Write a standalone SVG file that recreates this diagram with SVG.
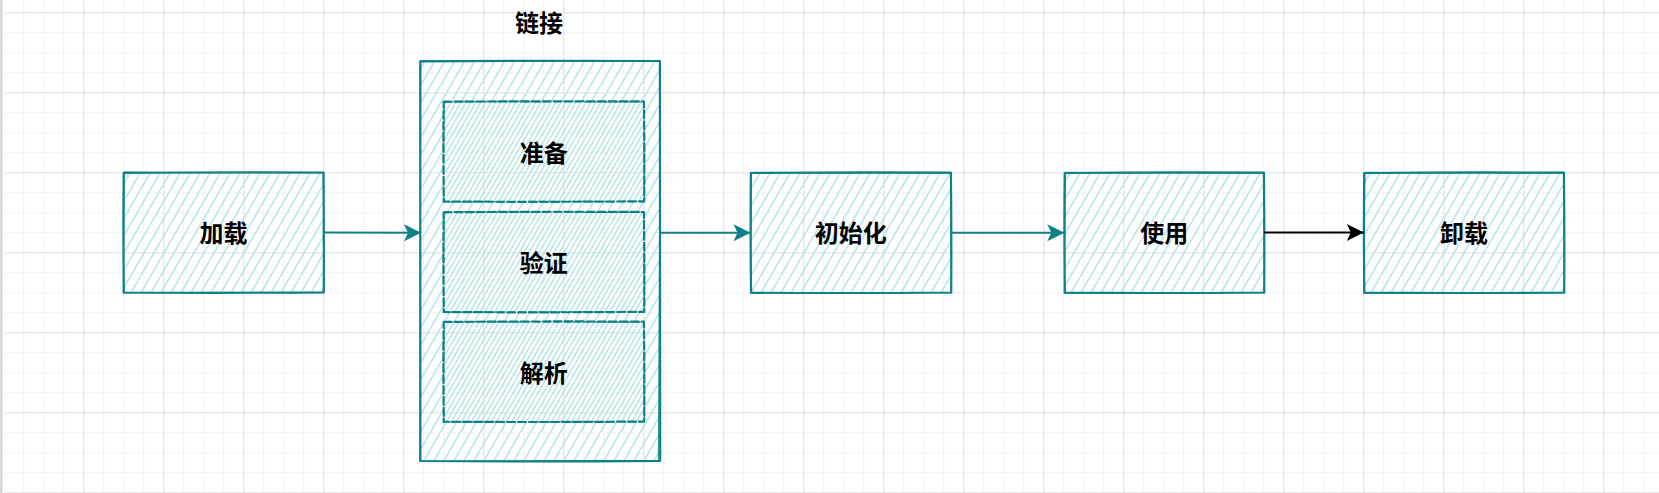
<svg xmlns="http://www.w3.org/2000/svg" width="1659" height="493" viewBox="0 0 1659 493">
<style>
.sk{fill:none;stroke:#0e8088;stroke-width:2.2;stroke-linecap:round;stroke-linejoin:round}
.sk2{fill:none;stroke:#0e8088;stroke-width:1.1;stroke-linecap:round;opacity:.85}
.dash{stroke-dasharray:8 3}
.dash2{stroke-dasharray:6 4}
.hf{fill:url(#hatch);stroke:none}
.hf2{fill:url(#hatch2);stroke:none}
.t{font-family:"Noto Sans CJK SC","Noto Sans",sans-serif;font-weight:700;font-size:24px;text-anchor:middle;fill:#000}
.cn{fill:none;stroke:#0e8088;stroke-width:2}
.cb{fill:none;stroke:#000;stroke-width:2}
</style>
<defs>
<pattern id="minor" patternUnits="userSpaceOnUse" width="20" height="20" patternTransform="translate(3.3,12.3)">
<path d="M0,0 V20 M0,0 H20" stroke="#f1f1f1" stroke-width="2" fill="none"/>
</pattern>
<pattern id="major" patternUnits="userSpaceOnUse" width="80" height="80" patternTransform="translate(3.3,12.3)">
<path d="M0,0 V80 M0,0 H80" stroke="#d0d0d0" stroke-width="1" fill="none"/>
</pattern>
<pattern id="hatch" patternUnits="userSpaceOnUse" width="10" height="17.32">
<path d="M-11,19.05 L-1,1.73 M-1,19.05 L11,-1.73 M9,19.05 L21,-1.73" stroke="#b0e3e6" stroke-width="1.4" fill="none"/>
</pattern>
<pattern id="hatch2" patternUnits="userSpaceOnUse" width="10" height="17.32" patternTransform="translate(5,0)">
<path d="M-11,19.05 L-1,1.73 M-1,19.05 L11,-1.73 M9,19.05 L21,-1.73" stroke="#b0e3e6" stroke-width="1.4" fill="none"/>
</pattern>
<marker id="ah" markerUnits="userSpaceOnUse" markerWidth="20" markerHeight="18" viewBox="0 0 20 18" refX="18" refY="9" orient="auto">
<path d="M1,0.5 L18,9 L1,17.5 L5,9 Z" fill="#0e8088"/>
</marker>
<marker id="ahb" markerUnits="userSpaceOnUse" markerWidth="20" markerHeight="18" viewBox="0 0 20 18" refX="18" refY="9" orient="auto">
<path d="M1,0.5 L18,9 L1,17.5 L5,9 Z" fill="#000"/>
</marker>
</defs>

<g id="background">
<rect x="0" y="0" width="1659" height="493" fill="#ffffff"/>
<rect x="4.5" y="0" width="1654.5" height="493" fill="url(#minor)"/>
<rect x="4.5" y="0" width="1654.5" height="493" fill="url(#major)"/>
<rect x="0" y="0" width="2.6" height="493" fill="#d8d8d8"/>
</g>

<g id="node-jiazai">
<rect class="hf" x="123.5" y="172.5" width="200" height="120"/>
<path class="sk" d="M123.7,172.8 Q223.5,171.9 323.4,172.5 Q324.1,232.5 323.7,292.3 Q223.5,293.2 123.9,292.5 Q123,232.5 123.7,172.8 Z"/>
<path class="sk2" d="M124.3,172.1 Q203.5,173.2 323.9,173 Q323,242.5 324.1,292.8 Q243.5,291.9 123.2,292.9 Q124.2,222.5 124.3,172.1"/>
<text class="t" x="223.5" y="241.5">加载</text>
</g>

<g id="node-lianjie">
<rect class="hf" x="420" y="61" width="240" height="400"/>
<path class="sk" d="M420.2,61.3 Q540,60.4 659.9,61 Q660.6,261 660.2,460.8 Q540,461.7 420.4,461 Q419.5,261 420.2,61.3 Z"/>
<path class="sk2" d="M420.8,60.6 Q520,61.7 660.4,61.5 Q659.5,271 658.4,460.3 Q560,460.4 419.7,461.4 Q420.7,251 420.8,60.6"/>
<text class="t" x="539" y="32">链接</text>
</g>

<g id="node-zhunbei">
<rect class="hf2" x="443.5" y="101.5" width="200.5" height="100"/>
<path class="sk dash" d="M443.7,101.8 Q543.7,100.9 643.9,101.5 Q644.6,151.5 644.2,201.3 Q543.7,202.2 443.9,201.5 Q443,151.5 443.7,101.8 Z"/>
<path class="sk2 dash2" d="M444.3,101.1 Q523.7,102.2 644.4,102 Q643.5,161.5 644.6,201.8 Q563.7,200.9 443.2,201.9 Q444.2,141.5 444.3,101.1"/>
<text class="t" x="543.7" y="162">准备</text>
</g>

<g id="node-yanzheng">
<rect class="hf2" x="443.5" y="212" width="200.5" height="100"/>
<path class="sk dash" d="M443.7,212.3 Q543.7,211.4 643.9,212 Q644.6,262 644.2,311.8 Q543.7,312.7 443.9,312 Q443,262 443.7,212.3 Z"/>
<path class="sk2 dash2" d="M444.3,211.6 Q523.7,212.7 644.4,212.5 Q643.5,272 644.6,312.3 Q563.7,311.4 443.2,312.4 Q444.2,252 444.3,211.6"/>
<text class="t" x="543.7" y="272">验证</text>
</g>

<g id="node-jiexi">
<rect class="hf2" x="443.5" y="321.7" width="200.5" height="100"/>
<path class="sk dash" d="M443.7,322 Q543.7,321.1 643.9,321.7 Q644.6,371.7 644.2,421.5 Q543.7,422.4 443.9,421.7 Q443,371.7 443.7,322 Z"/>
<path class="sk2 dash2" d="M444.3,321.3 Q523.7,322.4 644.4,322.2 Q643.5,381.7 644.6,422 Q563.7,421.1 443.2,422.1 Q444.2,361.7 444.3,321.3"/>
<text class="t" x="543.7" y="381.5">解析</text>
</g>

<g id="node-chushihua">
<rect class="hf" x="750.7" y="172.7" width="200.3" height="120"/>
<path class="sk" d="M750.9,173 Q850.8,172.1 950.9,172.7 Q951.6,232.7 951.2,292.5 Q850.8,293.4 751.1,292.7 Q750.2,232.7 750.9,173 Z"/>
<path class="sk2" d="M751.5,172.3 Q830.8,173.4 951.4,173.2 Q950.5,242.7 951.6,293 Q870.8,292.1 750.4,293.1 Q751.4,222.7 751.5,172.3"/>
<text class="t" x="850.8" y="242">初始化</text>
</g>

<g id="node-shiyong">
<rect class="hf" x="1064.5" y="172.7" width="199.5" height="120"/>
<path class="sk" d="M1064.7,173 Q1164.2,172.1 1263.9,172.7 Q1264.6,232.7 1264.2,292.5 Q1164.2,293.4 1064.9,292.7 Q1064,232.7 1064.7,173 Z"/>
<path class="sk2" d="M1065.3,172.3 Q1144.2,173.4 1264.4,173.2 Q1263.5,242.7 1264.6,293 Q1184.2,292.1 1064.2,293.1 Q1065.2,222.7 1065.3,172.3"/>
<text class="t" x="1164.2" y="242">使用</text>
</g>

<g id="node-xiezai">
<rect class="hf" x="1364" y="172.7" width="200" height="120"/>
<path class="sk" d="M1364.2,173 Q1464,172.1 1563.9,172.7 Q1564.6,232.7 1564.2,292.5 Q1464,293.4 1364.4,292.7 Q1363.5,232.7 1364.2,173 Z"/>
<path class="sk2" d="M1364.8,172.3 Q1444,173.4 1564.4,173.2 Q1563.5,242.7 1564.6,293 Q1484,292.1 1363.7,293.1 Q1364.7,222.7 1364.8,172.3"/>
<text class="t" x="1464" y="242">卸载</text>
</g>

<g id="connectors">
<path class="cn" d="M323.5,232.6 L421,232.8" marker-end="url(#ah)"/>
<path class="cn" d="M660,232.7 L750.5,232.7" marker-end="url(#ah)"/>
<path class="cn" d="M951,232.7 L1064.3,232.7" marker-end="url(#ah)"/>
<path class="cb" d="M1264,232.5 L1363.8,232.5" marker-end="url(#ahb)"/>
</g>
</svg>
